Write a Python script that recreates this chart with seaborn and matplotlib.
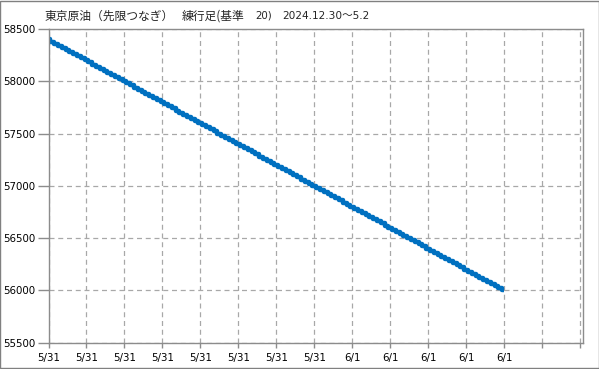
import matplotlib
matplotlib.use("Agg")
import matplotlib.pyplot as plt
import seaborn as sns
import pandas as pd
from matplotlib.patches import Rectangle

title_parts = ["東京原油（先限つなぎ）", "練行足(基準", "20)", "2024.12.30〜5.2"]

brick_values = [
    58400, 58380, 58360, 58340, 58320, 58300, 58280, 58260, 58240, 58220,
    58200, 58180, 58160, 58140, 58120, 58100, 58080, 58060, 58040, 58020,
    58000, 57980, 57960, 57940, 57920, 57900, 57880, 57860, 57840, 57820,
    57800, 57780, 57760, 57740, 57720, 57700, 57680, 57660, 57640, 57620,
    57600, 57580, 57560, 57540, 57520, 57500, 57480, 57460, 57440, 57420,
    57400, 57380, 57360, 57340, 57320, 57300, 57280, 57260, 57240, 57220,
    57200, 57180, 57160, 57140, 57120, 57100, 57080, 57060, 57040, 57020,
    57000, 56980, 56960, 56940, 56920, 56900, 56880, 56860, 56840, 56820,
    56800, 56780, 56760, 56740, 56720, 56700, 56680, 56660, 56640, 56620,
    56600, 56580, 56560, 56540, 56520, 56500, 56480, 56460, 56440, 56420,
    56400, 56380, 56360, 56340, 56320, 56300, 56280, 56260, 56240, 56220,
    56200, 56180, 56160, 56140, 56120, 56100, 56080, 56060, 56040, 56020,
    56000,
]
x_tick_positions = [0, 10, 20, 30, 40, 50, 60, 70, 80, 90, 100, 110, 120, 130, 140]
x_tick_labels = ["5/31"] * 8 + ["6/1"] * 5 + ["", ""]
y_ticks = [55500, 56000, 56500, 57000, 57500, 58000, 58500]

sns.set_style("white")
plt.rcParams['font.family'] = ['DejaVu Sans']

df = pd.DataFrame({"idx": list(range(len(brick_values))), "value": brick_values})

fig = plt.figure(figsize=(5.99, 3.69), dpi=100)
fig.patch.set_facecolor("white")
ax = fig.add_axes([48.5 / 599, 1 - 342.7 / 369, (582.7 - 48.5) / 599, (342.7 - 29) / 369])

sns.lineplot(data=df, x="idx", y="value", ax=ax, color="#0070C0",
             linewidth=3.2, drawstyle="steps-mid", solid_capstyle="butt")

ax.set_xlim(0, 140.7)
ax.set_ylim(55500, 58500)
ax.set_xticks(x_tick_positions)
ax.set_xticklabels(x_tick_labels)
ax.set_yticks(y_ticks)
ax.set_yticklabels([str(v) for v in y_ticks])
ax.set_xlabel("")
ax.set_ylabel("")

ax.grid(True, color="#A8A8A8", linestyle=(0, (4, 3)), linewidth=0.9)
ax.set_axisbelow(True)
for s in ax.spines.values():
    s.set_color("#8C8C8C")
    s.set_linewidth(1.0)

ax.tick_params(axis="y", length=8, width=1, color="#8C8C8C", pad=1.5,
               labelsize=7.4, labelcolor="#000000", direction="out", left=True)
ax.tick_params(axis="x", length=3.5, width=1, color="#8C8C8C", pad=4,
               labelsize=7.4, labelcolor="#000000", direction="out", bottom=True)

ty = 1 - 16 / 369
cjk = ['Noto Sans CJK JP', 'DejaVu Sans']
lat = ['DejaVu Sans', 'Noto Sans CJK JP']
fig.text(45 / 599, ty, title_parts[0], fontsize=8.5, va="center", ha="left", family=cjk)
fig.text(182 / 599, ty, title_parts[1], fontsize=8.5, va="center", ha="left", family=cjk)
fig.text(255 / 599, ty, title_parts[2], fontsize=7.4, va="center", ha="left", family=lat)
fig.text(282 / 599, ty, title_parts[3], fontsize=7.6, va="center", ha="left", family=lat)

fig.patches.append(Rectangle((0.0008, 0.0014), 0.9984, 0.9972, transform=fig.transFigure,
                             fill=False, edgecolor="#808080", linewidth=1.0))

fig.savefig("out.png", dpi=100)
